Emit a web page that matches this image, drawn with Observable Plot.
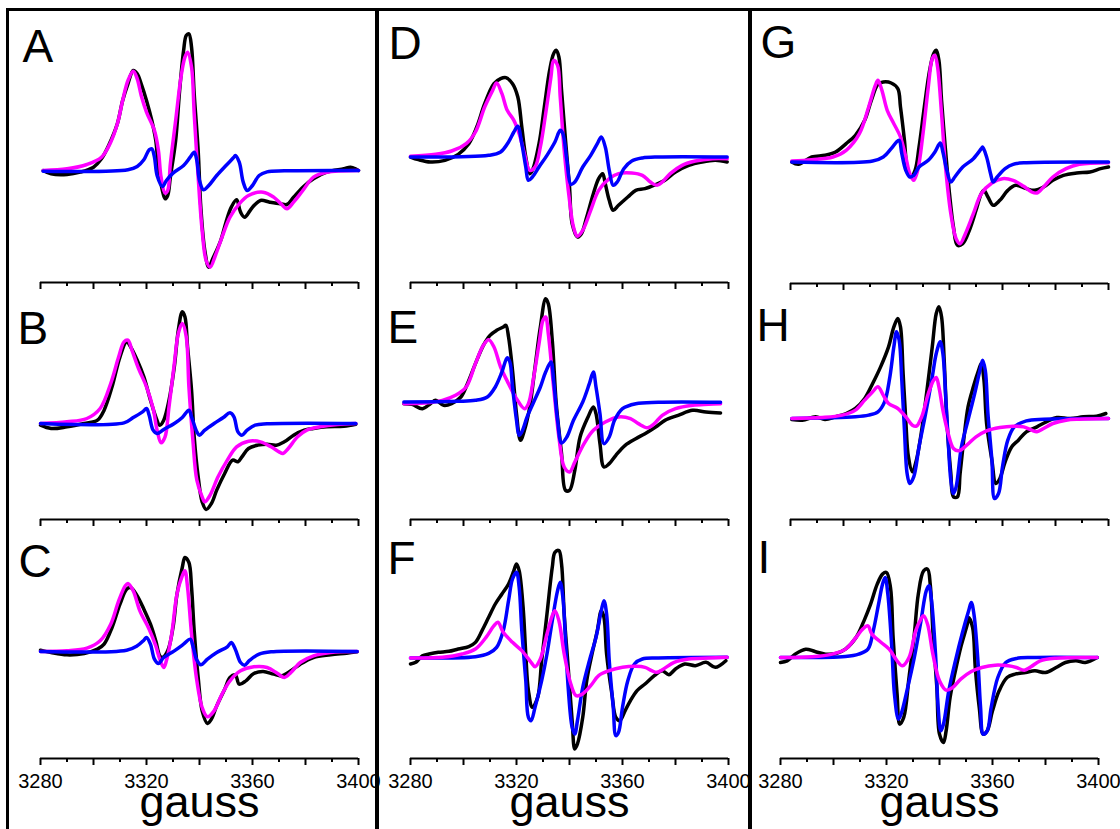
<!DOCTYPE html>
<html><head><meta charset="utf-8">
<script src="https://cdn.jsdelivr.net/npm/d3@7"></script>
<script src="https://cdn.jsdelivr.net/npm/@observablehq/plot@0.6"></script>
<style>
html,body{margin:0;padding:0;background:#fff;}
#root{position:relative;width:1120px;height:829px;overflow:hidden;background:#fff;font-family:"Liberation Sans",Arial,sans-serif;}
.box{position:absolute;border:3px solid #000;box-sizing:border-box;}
#root svg{position:absolute;overflow:visible;max-width:none;}
</style></head><body><div id="root"></div>
<script>
// ---- axis ticks (gauss) ----
const tickLabels = [3280, 3320, 3360, 3400];
const majorTicks = [3280, 3300, 3320, 3340, 3360, 3380, 3400];
const minorTicks = [3290, 3310, 3330, 3350, 3370, 3390];

// ---- spectra: [field (G), intensity (a.u.)] ----
const A_black = [[3281,0],[3284,-10],[3290,-12],[3295,-5],[3300,10],[3303,35],[3306,80],[3309,140],[3311,210],[3313,260],[3315,300],[3316.5,290],[3318,260],[3320,210],[3322,150],[3323.5,90],[3324.5,10],[3326,-60],[3327,-85],[3328,-75],[3329,-20],[3331,90],[3332.5,240],[3334,360],[3335,405],[3336,410],[3337,370],[3338,230],[3339.5,60],[3340.5,-110],[3342,-240],[3343.5,-290],[3345,-265],[3348,-210],[3350,-155],[3352,-110],[3354,-88],[3355.5,-125],[3357,-140],[3360,-110],[3363,-90],[3366.5,-95],[3370.5,-100],[3373,-102],[3375.5,-80],[3379,-50],[3383,-25],[3388,-5],[3394.5,5],[3397,10],[3400,0]];
const A_magenta = [[3281,0],[3290,5],[3297.5,18],[3303,40],[3306.5,85],[3309,140],[3311,210],[3313,270],[3315,298],[3316.5,275],[3318,225],[3320,175],[3323,120],[3324.5,60],[3325.5,-20],[3327,-68],[3328,-60],[3329,20],[3331,150],[3333,280],[3334.5,340],[3335.5,355],[3337,310],[3338,170],[3339.5,-20],[3341,-180],[3342.5,-270],[3344,-290],[3346,-255],[3348.5,-200],[3351.5,-140],[3355,-100],[3358.5,-75],[3364,-65],[3368,-80],[3371,-102],[3373,-115],[3375.5,-95],[3379,-60],[3383,-20],[3388,-5],[3400,0]];
const A_blue = [[3281,-2],[3313,2],[3316.5,12],[3319,32],[3321,62],[3322,65],[3323,40],[3324,-15],[3326,-48],[3327.5,-30],[3330,-8],[3334,15],[3336.5,40],[3338,55],[3339,30],[3340,-30],[3341.5,-58],[3343.5,-45],[3346.5,-15],[3350,15],[3353,40],[3353.5,45],[3355,25],[3356.5,-35],[3358,-60],[3360,-45],[3362.5,-15],[3365.5,-4],[3372,-1],[3400,0]];

const B_black = [[3280,-5],[3284,-15],[3290,-10],[3296.5,0],[3301.5,10],[3304,40],[3307,110],[3310,200],[3312.5,245],[3314,230],[3316.5,190],[3319,140],[3321.5,70],[3323.5,20],[3325,-5],[3326.5,10],[3328.5,70],[3330.5,170],[3332,280],[3333.5,335],[3334.5,320],[3335.5,230],[3337,100],[3338,-40],[3339.5,-160],[3341,-235],[3342.5,-258],[3344.5,-240],[3346.5,-200],[3349.5,-150],[3352.5,-110],[3354.5,-115],[3356,-100],[3358.5,-75],[3362,-65],[3365.5,-62],[3369,-65],[3372,-55],[3375.5,-35],[3379.5,-20],[3383,-15],[3388,-10],[3394.5,-8],[3399,-2]];
const B_magenta = [[3280,0],[3290,5],[3297.5,15],[3302.5,45],[3306.5,120],[3309.5,200],[3311.5,245],[3313,250],[3314.5,220],[3317,165],[3320,110],[3322.5,45],[3324,-20],[3325.5,-58],[3327,-40],[3328.5,50],[3330.5,180],[3332,270],[3333.5,300],[3335,260],[3336,110],[3337.5,-50],[3339,-170],[3341,-220],[3342,-235],[3344,-215],[3347,-160],[3350.5,-110],[3354,-70],[3358.5,-53],[3363,-55],[3367,-70],[3370,-85],[3371.5,-90],[3373.5,-75],[3377,-40],[3380.5,-20],[3385.5,-10],[3392,-3],[3399,0]];
const B_blue = [[3280,0],[3311.5,2],[3315,18],[3318.5,35],[3320,45],[3321,25],[3322.5,-20],[3324,-30],[3326.5,-18],[3330.5,0],[3333.5,18],[3336,40],[3337,20],[3339,-25],[3340,-35],[3342,-20],[3345.5,0],[3349,18],[3351.5,32],[3353,20],[3354.5,-25],[3356,-35],[3358,-20],[3361,-5],[3365.5,-1],[3399,0]];

const C_black = [[3280,4],[3284,-3],[3290,-10],[3296.5,-6],[3301.5,7],[3304,22],[3307,72],[3310,142],[3312.5,187],[3314,192],[3316.5,167],[3319,127],[3321.5,82],[3323.5,32],[3325,-13],[3326,-18],[3328,2],[3330,72],[3331.5,172],[3333.5,252],[3334.5,282],[3336,267],[3337,192],[3338,62],[3339.5,-78],[3341,-178],[3343,-216],[3344.5,-203],[3346.5,-163],[3349.5,-113],[3351.5,-78],[3353.5,-70],[3355,-98],[3357.5,-88],[3360.5,-66],[3364,-60],[3368,-68],[3371,-73],[3374.5,-58],[3378,-38],[3383,-18],[3389.5,-10],[3395.5,-5],[3399.5,-1]];
const C_magenta = [[3280,0],[3290,2],[3297.5,10],[3302.5,32],[3306.5,82],[3309.5,152],[3312,197],[3313,204],[3315,182],[3317.5,122],[3321,67],[3323.5,17],[3325,-23],[3326.5,-48],[3327.5,-28],[3329.5,52],[3331.5,172],[3333.5,227],[3334.5,242],[3335.5,192],[3337,52],[3339,-88],[3341,-168],[3343,-196],[3345.5,-178],[3348.5,-128],[3351.5,-88],[3355.5,-58],[3360.5,-46],[3365.5,-48],[3369.5,-66],[3372,-78],[3374.5,-63],[3378,-33],[3383,-13],[3389.5,-3],[3399.5,0]];
const C_blue = [[3280,0],[3312.5,4],[3316.5,17],[3319,34],[3320,42],[3321.5,22],[3323,-23],[3324.5,-36],[3326.5,-18],[3330.5,2],[3334,22],[3336.5,37],[3337.5,17],[3339,-26],[3340.5,-40],[3343,-23],[3346.5,-3],[3350.5,14],[3352,27],[3353.5,7],[3355.5,-33],[3357,-41],[3359,-26],[3362.5,-8],[3367,-1],[3399.5,0]];

const D_black = [[3280,0],[3283,-8],[3287.5,-15],[3293,-10],[3298,8],[3302,40],[3305,90],[3308,160],[3311.5,220],[3314,235],[3316,238],[3318.5,220],[3320.5,180],[3322,90],[3323.5,0],[3325,-50],[3326,-40],[3328.5,40],[3330.5,150],[3332.5,260],[3334,310],[3335,320],[3336,300],[3337,200],[3338.5,50],[3340,-90],[3341,-200],[3343,-240],[3344.5,-230],[3346.5,-180],[3349,-110],[3351,-65],[3352.5,-50],[3353.5,-80],[3355,-130],[3356.5,-160],[3358.5,-145],[3362,-120],[3365,-100],[3368.5,-95],[3372.5,-83],[3376,-70],[3380,-45],[3385,-25],[3390,-15],[3395,-10],[3399.5,-15]];
const D_magenta = [[3280,2],[3289.5,8],[3295.5,18],[3301,40],[3304.5,75],[3308,150],[3311,200],[3312.5,222],[3314.5,190],[3316.5,140],[3319,110],[3321,70],[3323,10],[3325,-40],[3327,-30],[3329,30],[3331,130],[3333,240],[3334,290],[3335.5,275],[3336.5,180],[3338,20],[3340,-130],[3341.5,-210],[3343,-238],[3345,-220],[3348,-160],[3351,-100],[3355,-65],[3358.5,-50],[3363.5,-48],[3367.5,-55],[3370.5,-75],[3373,-85],[3375,-75],[3378,-50],[3382.5,-25],[3387.5,-12],[3394,-5],[3399.5,-5]];
const D_blue = [[3280,0],[3309.5,5],[3314,15],[3317,45],[3319,75],[3320.5,92],[3322,40],[3323.5,-30],[3324.5,-70],[3326,-60],[3328.5,-30],[3331.5,5],[3334.5,45],[3336.5,80],[3337.5,70],[3339,-10],[3340.5,-82],[3342,-75],[3345,-30],[3348,5],[3350.5,40],[3352,60],[3353.5,30],[3355,-40],[3356.5,-85],[3358,-75],[3360.5,-35],[3363.5,-12],[3367.5,-3],[3373.5,0],[3399.5,0]];

const E_black = [[3277.5,-2],[3280.5,-4],[3284.5,-17],[3287.5,-2],[3289.5,8],[3292.5,-7],[3295.5,-2],[3299,18],[3301.5,58],[3304.5,118],[3307.5,173],[3310,203],[3312.5,218],[3315,228],[3316,233],[3317,198],[3318.5,98],[3320,-32],[3321.5,-112],[3323,-82],[3325,-12],[3327,108],[3329,228],[3331,313],[3332,298],[3333.5,188],[3335,-2],[3337,-152],[3338.5,-262],[3340,-262],[3342,-202],[3344,-102],[3347,-42],[3349,-12],[3350,-32],[3351.5,-122],[3353,-192],[3355,-182],[3357.5,-157],[3361,-127],[3365,-107],[3368.5,-92],[3372.5,-72],[3376,-52],[3381,-37],[3386.5,-22],[3391.5,-27],[3397,-30]];
const E_magenta = [[3277.5,-2],[3285.5,0],[3292,8],[3297,23],[3301,48],[3304.5,118],[3307.5,173],[3309.5,190],[3311.5,168],[3314,108],[3317,58],[3320,13],[3323,-17],[3324.5,-2],[3326.5,78],[3328.5,178],[3330,248],[3331,258],[3332,208],[3334,48],[3336,-102],[3338,-192],[3340,-207],[3342,-177],[3345.5,-122],[3349,-82],[3353.5,-57],[3358.5,-42],[3363,-47],[3366,-62],[3369.5,-74],[3372,-62],[3375,-37],[3380,-17],[3386.5,-7],[3392.5,-4],[3397,-2]];
const E_blue = [[3277.5,3],[3298,5],[3304.5,8],[3309,18],[3312,48],[3314.5,93],[3316.5,136],[3317.5,123],[3318.5,48],[3320,-52],[3321,-97],[3322,-87],[3324,-42],[3326.5,3],[3329,48],[3331,93],[3333,123],[3334,68],[3335.5,-52],[3337,-120],[3339,-102],[3341.5,-52],[3345,3],[3347.5,58],[3349,93],[3350,48],[3351.5,-32],[3353,-122],[3355,-102],[3357,-52],[3360,-17],[3365,-2],[3373.5,2],[3397,2]];

const F_black = [[3280,-18],[3282,-13],[3284.5,7],[3287,12],[3290.5,17],[3294.5,20],[3298,27],[3302,34],[3304.5,47],[3307,82],[3309.5,122],[3312,162],[3314.5,192],[3317,222],[3319,262],[3320,282],[3321,262],[3322.5,152],[3323.5,12],[3324.5,-98],[3326,-148],[3328,-118],[3329.5,-8],[3331.5,132],[3333.5,272],[3334.5,317],[3336,322],[3337,282],[3338,132],[3339.5,-28],[3341,-188],[3342,-273],[3343,-258],[3345,-178],[3346.5,-68],[3348.5,12],[3350.5,82],[3352,142],[3353,122],[3354,12],[3356,-108],[3357.5,-178],[3359,-188],[3361,-158],[3363,-128],[3365.5,-98],[3368.5,-78],[3372,-53],[3375,-38],[3377.5,-50],[3380,-33],[3383.5,-18],[3387.5,-23],[3391.5,-13],[3395,-28],[3399,-8]];
const F_magenta = [[3280,0],[3292,2],[3299.5,12],[3304.5,27],[3308.5,62],[3311.5,97],[3313,107],[3315,77],[3318.5,47],[3322,22],[3325.5,-13],[3327,-26],[3329,-3],[3331.5,72],[3333.5,127],[3334.5,142],[3336,112],[3338,12],[3340.5,-78],[3342.5,-113],[3344.5,-110],[3348,-83],[3351,-53],[3355,-38],[3360,-28],[3365,-25],[3368.5,-28],[3371,-38],[3373,-43],[3375.5,-33],[3379.5,-13],[3385,-3],[3392.5,0],[3399.5,2]];
const F_blue = [[3280,0],[3304.5,4],[3309.5,14],[3312.5,32],[3315,82],[3317,172],[3318.5,237],[3320,257],[3321,212],[3322,82],[3323.5,-68],[3324.5,-178],[3325.5,-188],[3327,-148],[3329.5,-68],[3331.5,12],[3333.5,112],[3335.5,202],[3336.5,227],[3337.5,182],[3338.5,52],[3339.5,-88],[3341,-208],[3342,-228],[3343,-188],[3345,-88],[3347.5,-8],[3350,62],[3352,142],[3353,172],[3354,132],[3355,-8],[3356.5,-148],[3357.5,-233],[3358.5,-223],[3360,-148],[3362,-68],[3364.5,-18],[3367.5,-3],[3373.5,0],[3399.5,2]];

const G_black = [[3280.5,0],[3283,-7],[3288,15],[3293,20],[3297,30],[3301,55],[3304.5,80],[3308,125],[3310.5,185],[3313,233],[3315,240],[3318,237],[3320.5,220],[3321.5,165],[3323,65],[3324,-15],[3325.5,-43],[3327,-25],[3328.5,45],[3330.5,165],[3332.5,275],[3334,325],[3335,335],[3336,305],[3337,185],[3338.5,35],[3340,-95],[3341.5,-195],[3343,-250],[3345,-245],[3347.5,-205],[3350,-145],[3352,-95],[3353,-85],[3354.5,-105],[3356.5,-130],[3359,-115],[3362,-85],[3365,-70],[3369,-80],[3372,-85],[3375.5,-75],[3379,-55],[3383,-40],[3388,-33],[3393,-30],[3397,-20],[3400,-15]];
const G_magenta = [[3280.5,3],[3288,7],[3296,15],[3301,35],[3306,85],[3309.5,165],[3312,230],[3313,245],[3314.5,215],[3316.5,155],[3319,115],[3321.5,75],[3323.5,15],[3325,-35],[3326.5,-55],[3328,-25],[3330,85],[3332,225],[3333.5,310],[3334.5,320],[3335.5,285],[3337,145],[3338.5,-15],[3340.5,-155],[3342.5,-230],[3344,-245],[3346,-215],[3349,-155],[3352,-95],[3356,-63],[3360,-50],[3364,-55],[3368,-73],[3371,-90],[3373,-93],[3375.5,-75],[3379,-45],[3384,-20],[3389,-7],[3400,-2]];
const G_blue = [[3280.5,0],[3311,3],[3315,15],[3318,40],[3320,60],[3321,65],[3322,25],[3323.5,-25],[3325,-45],[3326.5,-40],[3328.5,-15],[3332,5],[3334.5,30],[3336.5,57],[3337.5,30],[3339,-25],[3340.5,-60],[3342,-45],[3345,-15],[3349,10],[3352,40],[3352.5,45],[3354,15],[3355.5,-35],[3356.5,-60],[3358,-45],[3361,-20],[3364,-7],[3369,-2],[3400,0]];

const H_black = [[3280.5,-3],[3284.5,-5],[3289.5,5],[3293,-3],[3297,5],[3301,15],[3304.5,30],[3308,60],[3311,105],[3314,155],[3317,215],[3319,275],[3320.5,300],[3321.5,275],[3322.5,135],[3323.5,-5],[3324.5,-115],[3326,-160],[3327.5,-125],[3329.5,-35],[3331.5,85],[3333.5,215],[3335,315],[3336,335],[3337,305],[3338,175],[3339,-5],[3340.5,-165],[3341.5,-235],[3343,-235],[3344,-165],[3345.5,-55],[3347,35],[3349,95],[3351,145],[3352,165],[3353,115],[3354,-15],[3356,-125],[3357.5,-195],[3359,-180],[3361,-130],[3363.5,-85],[3366,-65],[3369,-40],[3373,-25],[3376.5,-10],[3380.5,3],[3385.5,0],[3390.5,5],[3395.5,7],[3399,15]];
const H_magenta = [[3280.5,0],[3292,3],[3299.5,10],[3304.5,25],[3308,55],[3311,80],[3313,95],[3315,70],[3317,45],[3320.5,30],[3323.5,5],[3326,-20],[3327.5,-23],[3329.5,5],[3332,75],[3334,115],[3335,123],[3336,95],[3337.5,25],[3339.5,-45],[3341.5,-90],[3343.5,-97],[3346.5,-80],[3350,-55],[3354,-37],[3359,-27],[3364,-23],[3368,-25],[3371,-35],[3373,-40],[3375.5,-30],[3379,-15],[3384,-5],[3389,-2],[3400,0]];
const H_blue = [[3280.5,0],[3304.5,5],[3309.5,10],[3313,20],[3315.5,50],[3317.5,125],[3319,215],[3320,260],[3321,235],[3322,115],[3323,-35],[3324,-165],[3325,-195],[3326.5,-175],[3328.5,-85],[3331,15],[3333.5,125],[3335,195],[3336.5,230],[3337.5,195],[3338.5,75],[3339.5,-65],[3340.5,-185],[3341.5,-225],[3342.5,-205],[3344.5,-85],[3347,-5],[3349.5,75],[3351.5,145],[3352.5,175],[3353.5,145],[3354.5,15],[3356,-125],[3357,-240],[3358.5,-225],[3360,-145],[3362,-65],[3364.5,-25],[3369,-7],[3375.5,-2],[3400,0]];

const I_black = [[3280,-15],[3282.5,-10],[3285.5,10],[3289.5,25],[3293,18],[3297,10],[3301,12],[3304.5,25],[3308.5,60],[3311.5,110],[3314,160],[3316.5,220],[3318.5,250],[3320,255],[3321.5,210],[3322.5,60],[3324,-110],[3325,-200],[3326.5,-180],[3328.5,-60],[3330.5,70],[3332,190],[3334,260],[3335.5,265],[3336.5,220],[3337.5,80],[3339,-90],[3340,-230],[3341.5,-255],[3342.5,-220],[3344,-120],[3346,-40],[3348,30],[3350.5,100],[3351,120],[3352.5,90],[3353.5,-30],[3355,-150],[3356.5,-230],[3358,-220],[3360,-160],[3362.5,-100],[3365.5,-60],[3368.5,-50],[3372.5,-45],[3376,-40],[3380,-45],[3384,-30],[3387.5,-15],[3391.5,-10],[3395,-15],[3399.5,0]];
const I_magenta = [[3280,0],[3292,2],[3299.5,10],[3304.5,25],[3308.5,60],[3311,85],[3313,95],[3314.5,70],[3318,45],[3321,25],[3324,-10],[3326,-25],[3328.5,0],[3331,80],[3333,115],[3334,125],[3335.5,100],[3337.5,10],[3340,-70],[3342.5,-98],[3345,-90],[3348,-65],[3352,-42],[3356,-30],[3361,-23],[3366,-25],[3369,-30],[3372,-38],[3374.5,-28],[3378,-10],[3384,-2],[3399.5,0]];
const I_blue = [[3280,0],[3304.5,3],[3309.5,10],[3313,25],[3315,80],[3317,160],[3318.5,220],[3319.5,240],[3320.5,190],[3322,30],[3323,-110],[3324.5,-185],[3325.5,-170],[3328,-90],[3330.5,0],[3333,110],[3335,200],[3336,215],[3337,170],[3338.5,10],[3339.5,-150],[3340.5,-220],[3341.5,-200],[3343.5,-100],[3346,-10],[3348.5,70],[3351,140],[3352,165],[3353,130],[3354.5,-10],[3355.5,-150],[3356.5,-230],[3358,-220],[3359.5,-150],[3362,-60],[3365,-15],[3369,-3],[3375,0],[3399.5,0]];

// ---- assemble ----
const spectra = {
  A: {black: A_black, magenta: A_magenta, blue: A_blue},
  B: {black: B_black, magenta: B_magenta, blue: B_blue},
  C: {black: C_black, magenta: C_magenta, blue: C_blue},
  D: {black: D_black, magenta: D_magenta, blue: D_blue},
  E: {black: E_black, magenta: E_magenta, blue: E_blue},
  F: {black: F_black, magenta: F_magenta, blue: F_blue},
  G: {black: G_black, magenta: G_magenta, blue: G_blue},
  H: {black: H_black, magenta: H_magenta, blue: H_blue},
  I: {black: I_black, magenta: I_magenta, blue: I_blue}
};
const colors = {black: "#000000", magenta: "#ff00ff", blue: "#0000ff"};

// layout (page pixels)
const layout = [
  {id:"A", x0:40,  axisY:282, top:12,  off:112,   lx:22,  lb:61, order:["black","magenta","blue"]},
  {id:"B", x0:40,  axisY:519, top:282, off:96,    lx:17,  lb:343, order:["black","magenta","blue"]},
  {id:"C", x0:40,  axisY:758, top:519, off:107,   lx:18,  lb:576, order:["black","magenta","blue"]},
  {id:"D", x0:410, axisY:282, top:12,  off:125.5, lx:388, lb:58, order:["black","magenta","blue"]},
  {id:"E", x0:410, axisY:519, top:282, off:116.5, lx:387, lb:342, order:["black","magenta","blue"]},
  {id:"F", x0:410, axisY:758, top:519, off:100.5, lx:387, lb:573, order:["black","blue","magenta"]},
  {id:"G", x0:790, axisY:283, top:12,  off:121.5, lx:760, lb:57, order:["black","magenta","blue"]},
  {id:"H", x0:790, axisY:519, top:282, off:101,   lx:756, lb:340, order:["black","blue","magenta"]},
  {id:"I", x0:780, axisY:758, top:519, off:101,   lx:757, lb:572, order:["black","blue","magenta"]}
];

const root = document.getElementById("root");
[[6,8,372],[376,8,375],[749,8,400]].forEach(([l,t,w]) => {
  const d = document.createElement("div");
  d.className = "box";
  d.style.left = l + "px"; d.style.top = t + "px";
  d.style.width = w + "px"; d.style.height = "900px";
  root.appendChild(d);
});

for (const p of layout) {
  const bottomRow = p.axisY > 700;
  const plotH = p.axisY - p.top;
  const mb = bottomRow ? 829 - p.axisY : 12;
  const lo = -p.off * 3, hi = lo + plotH * 3;
  const marks = [
    Plot.ruleY([lo], {stroke: "#000", strokeWidth: 2}),
    Plot.axisX({ticks: minorTicks, tickSize: 4, strokeWidth: 2, tickFormat: () => "", label: null}),
    Plot.axisX({ticks: majorTicks, tickSize: 7, strokeWidth: 2, tickFormat: () => "", label: null})
  ];
  if (bottomRow) {
    marks.push(Plot.text(tickLabels, {x: d => d, text: d => String(d), frameAnchor: "bottom", dy: 15.5, fontSize: 20, lineAnchor: "top", fill: "#000"}));
    marks.push(Plot.text(["gauss"], {text: d => d, frameAnchor: "bottom", dy: 58, fontSize: 45, lineAnchor: "bottom", fill: "#000"}));
  }
  for (const s of p.order) {
    const rows = spectra[p.id][s].map(([field, intensity]) => ({field, intensity}));
    marks.push(Plot.line(rows, {x: "field", y: "intensity", stroke: colors[s], strokeWidth: 3.5, curve: "catmull-rom"}));
  }
  marks.push(Plot.text([p.id], {text: d => d, frameAnchor: "top-left", dx: p.lx - p.x0, dy: p.lb - p.top, fontSize: 46, textAnchor: "start", lineAnchor: "bottom", fill: "#000"}));
  const svg = Plot.plot({
    width: 398, height: plotH + mb,
    marginLeft: 40, marginRight: 40, marginTop: 0, marginBottom: mb,
    x: {domain: [3280, 3400], label: null},
    y: {domain: [lo, hi], axis: null},
    style: {background: "transparent", fontFamily: "Liberation Sans, Arial, sans-serif", color: "#000", overflow: "visible"},
    marks
  });
  svg.style.left = (p.x0 - 40) + "px";
  svg.style.top = p.top + "px";
  root.appendChild(svg);
}
</script></body></html>
